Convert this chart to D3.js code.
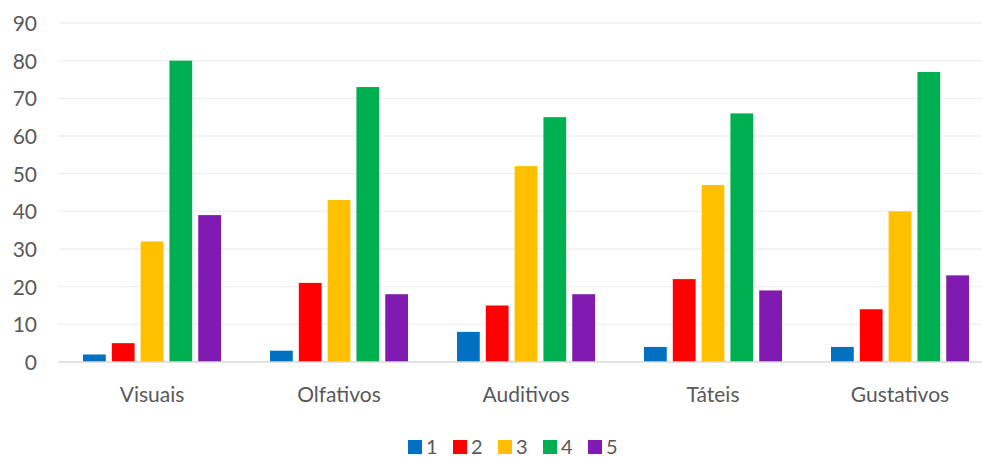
<!DOCTYPE html>
<html>
<head>
<meta charset="utf-8">
<script src="https://cdn.jsdelivr.net/npm/d3@7"></script>
<style>
  html, body { margin: 0; padding: 0; background: #fff; }
  svg { display: block; }
  text { font-family: Lato, "Open Sans", sans-serif; fill: #595959; }
</style>
</head>
<body>
<svg id="chart" width="982" height="457"></svg>
<script>
const categories = ["Visuais", "Olfativos", "Auditivos", "Táteis", "Gustativos"];
const seriesNames = ["1", "2", "3", "4", "5"];
const s1 = [2, 3, 8, 4, 4];
const s2 = [5, 21, 15, 22, 14];
const s3 = [32, 43, 52, 47, 40];
const s4 = [80, 73, 65, 66, 77];
const s5 = [39, 18, 18, 19, 23];
const seriesValues = [s1, s2, s3, s4, s5];
const colors = ["#0070C0", "#FF0000", "#FFC000", "#00B050", "#801AB0"];
const yTicks = [0, 10, 20, 30, 40, 50, 60, 70, 80, 90];

const svg = d3.select("#chart");
const W = 982, H = 457;
const plot = { left: 58.5, right: 993.5, top: 23, bottom: 362 };

const x0 = d3.scaleBand().domain(categories).range([plot.left, plot.right]).paddingInner(0).paddingOuter(0);
const innerW = 138;
const x1 = d3.scaleBand().domain(seriesNames).range([0, innerW]).paddingInner(0.21).paddingOuter(0);
const y = d3.scaleLinear().domain([0, 90]).range([plot.bottom, plot.top]);

// gridlines
svg.append("g")
  .selectAll("line")
  .data(yTicks.filter(t => t > 0))
  .join("line")
  .attr("x1", plot.left).attr("x2", W)
  .attr("y1", d => y(d)).attr("y2", d => y(d))
  .attr("stroke", "#efefef").attr("stroke-width", 1.3);

// y axis labels
const yAxis = d3.axisLeft(y).tickValues(yTicks).tickSize(0).tickPadding(0);
const gy = svg.append("g").attr("transform", "translate(37,0)").call(yAxis);
gy.select(".domain").remove();
gy.selectAll("text").style("font-size", "21px").attr("fill", "#595959")
  .style("font-family", "Lato, 'Open Sans', sans-serif").attr("dy", "0.35em");

// bars
const groups = svg.append("g").selectAll("g")
  .data(categories)
  .join("g")
  .attr("transform", d => `translate(${x0(d) + (x0.bandwidth() - innerW) / 2},0)`);

groups.selectAll("rect")
  .data((c, ci) => seriesNames.map((s, si) => ({ s, v: seriesValues[si][ci], color: colors[si] })))
  .join("rect")
  .attr("x", d => x1(d.s))
  .attr("width", x1.bandwidth())
  .attr("y", d => y(d.v))
  .attr("height", d => y(0) - y(d.v))
  .attr("fill", d => d.color);

// baseline
svg.append("line")
  .attr("x1", plot.left).attr("x2", W)
  .attr("y1", y(0)).attr("y2", y(0))
  .attr("stroke", "#d9d9d9").attr("stroke-width", 1.5);

// category axis
const xAxis = d3.axisBottom(x0).tickSize(0).tickPadding(0);
const gx = svg.append("g").attr("transform", "translate(0,402)").call(xAxis);
gx.select(".domain").remove();
gx.selectAll("text").style("font-size", "21px").attr("fill", "#595959")
  .style("font-family", "Lato, 'Open Sans', sans-serif").attr("dy", "0").attr("y", 0);

// legend
const legend = svg.append("g").attr("transform", "translate(408,440)");
const li = legend.selectAll("g").data(seriesNames).join("g")
  .attr("transform", (d, i) => `translate(${i * 45},0)`);
li.append("rect").attr("width", 14).attr("height", 14).attr("fill", (d, i) => colors[i]);
li.append("text").attr("x", 18).attr("y", 7).attr("dy", "0.35em")
  .style("font-size", "20px").text(d => d);
</script>
</body>
</html>
